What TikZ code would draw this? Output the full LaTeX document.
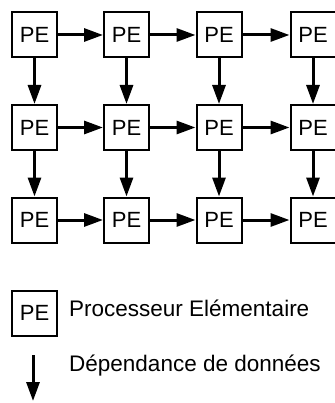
\documentclass[tikz,border=0pt]{standalone}
\usepackage{fontspec}
\setmainfont{Liberation Sans}
\usetikzlibrary{arrows.meta}
\begin{document}
\begin{tikzpicture}[x=1pt,y=-1pt,
  pebox/.style={draw,line width=2pt,minimum size=45pt,inner sep=0pt,font=\fontsize{22}{24}\selectfont},
  dep/.style={line width=3pt,-{Triangle[length=19pt,width=13pt]}},
  legtext/.style={anchor=base west,inner sep=0pt,font=\fontsize{22.5}{26}\selectfont}]
\useasboundingbox (0,0) rectangle (334,403);
\foreach \r/\y in {1/35,2/127.5,3/220}{
  \foreach \c/\x in {1/34.5,2/126.5,3/219,4/313}{
    \node[pebox] (p\r\c) at (\x,\y) {PE};
  }
}
\foreach \r in {1,2,3}{
  \draw[dep] (p\r1.east) -- (p\r2.west);
  \draw[dep] (p\r2.east) -- (p\r3.west);
  \draw[dep] (p\r3.east) -- (p\r4.west);
}
\foreach \c in {1,2,3,4}{
  \draw[dep] (p1\c.south) -- (p2\c.north);
  \draw[dep] (p2\c.south) -- (p3\c.north);
}
\node[pebox] (lbox) at (34.5,313) {PE};
\node[legtext] (ltext1) at (69,316) {Processeur Elémentaire};
\coordinate (la) at (33,355);
\coordinate (lb) at (33,401);
\draw[dep] (la) -- (lb);
\node[legtext] (ltext2) at (69,371) {Dépendance de données};
\end{tikzpicture}
\end{document}
